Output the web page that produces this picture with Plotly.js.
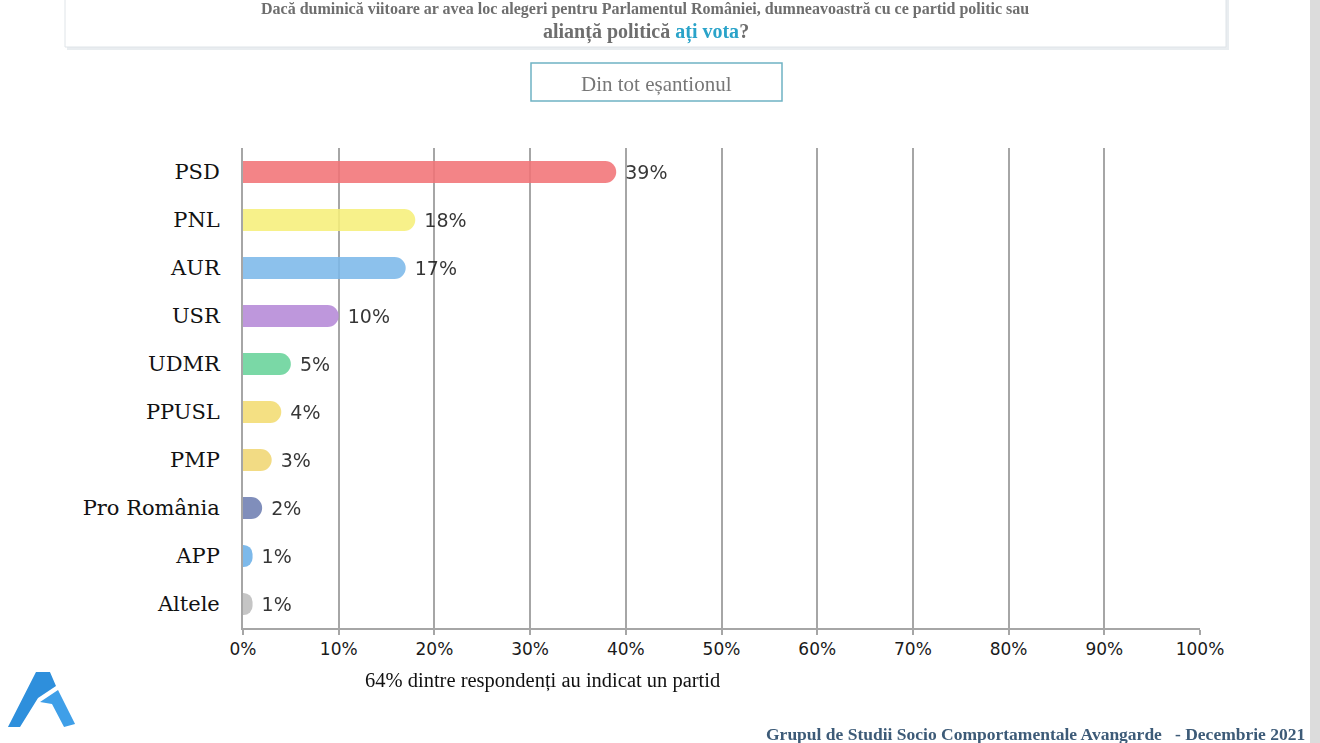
<!DOCTYPE html>
<html>
<head>
<meta charset="utf-8">
<script src="https://cdn.plot.ly/plotly-3.0.1.min.js"></script>
<style>html,body{margin:0;padding:0;background:#fff;}#chart{width:1320px;height:743px;}</style>
</head>
<body>
<div id="chart"></div>
<script>
const parties = ["PSD","PNL","AUR","USR","UDMR","PPUSL","PMP","Pro România","APP","Altele"];
const values = [39,18,17,10,5,4,3,2,1,1];
const labels = ["39%","18%","17%","10%","5%","4%","3%","2%","1%","1%"];
const colors = ["#f27377","#f6f07a","#7db9ea","#b689d8","#68d39a","#f3dc72","#f1d774","#6f7fb2","#6cb0e8","#bdbdbd"];
const xTicks = [0,10,20,30,40,50,60,70,80,90,100];
const xTickText = ["0%","10%","20%","30%","40%","50%","60%","70%","80%","90%","100%"];

const W = 1320, H = 743, L = 243, R = 120, T = 148, B = 115;
const pw = W - L - R, ph = H - T - B;
function px(x){ return (x - L) / pw; }
function py(y){ return (H - B - y) / ph; }
function path(pts){ return "M " + pts.map(p => px(p[0]).toFixed(4) + "," + py(p[1]).toFixed(4)).join(" L ") + " Z"; }

const trace = {
  type: "bar",
  orientation: "h",
  y: parties,
  x: values,
  text: labels,
  texttemplate: "\u00a0%{text}",
  textposition: "outside",
  cliponaxis: false,
  textfont: {family: "DejaVu Sans, Verdana, sans-serif", size: 19, color: "#1a1a1a"},
  marker: {color: colors, cornerradius: "50%", line: {width: 0}},
  opacity: 0.88,
  width: 0.46,
  hoverinfo: "skip"
};

const serif = "Liberation Serif, Times New Roman, serif";

const layout = {
  width: W, height: H,
  margin: {l: L, r: R, t: T, b: B},
  paper_bgcolor: "#ffffff",
  plot_bgcolor: "#ffffff",
  showlegend: false,
  xaxis: {
    range: [0, 100],
    tickvals: xTicks,
    ticktext: xTickText,
    showgrid: true,
    gridcolor: "#a6a6a6",
    gridwidth: 2,
    zeroline: false,
    showline: true,
    linecolor: "#a6a6a6",
    linewidth: 2,
    ticks: "outside",
    ticklen: 5,
    tickcolor: "#a6a6a6",
    tickwidth: 2,
    tickfont: {family: "DejaVu Sans, Verdana, sans-serif", size: 17, color: "#1a1a1a"},
    fixedrange: true
  },
  yaxis: {
    autorange: "reversed",
    showgrid: false,
    showline: true,
    linecolor: "#a6a6a6",
    linewidth: 2,
    ticks: "",
    ticklabelstandoff: 17,
    tickfont: {family: "DejaVu Serif, Liberation Serif, serif", size: 21, color: "#111"},
    fixedrange: true
  },
  shapes: [
    {type: "rect", xref: "paper", yref: "paper", x0: px(67), x1: px(1229), y0: py(50), y1: py(-10),
      line: {width: 0}, fillcolor: "#e9edf0", layer: "below"},
    {type: "rect", xref: "paper", yref: "paper", x0: px(65), x1: px(1226), y0: py(47), y1: py(-10),
      line: {color: "#dfe4e8", width: 1}, fillcolor: "#ffffff", layer: "below"},
    {type: "rect", xref: "paper", yref: "paper", x0: px(531), x1: px(782), y0: py(101), y1: py(63),
      line: {color: "#6fb3c4", width: 1.5}, fillcolor: "#ffffff", layer: "below"},
    {type: "rect", xref: "paper", yref: "paper", x0: px(1310), x1: px(1321), y0: py(744), y1: py(-1),
      line: {width: 0}, fillcolor: "#dcdcdc", layer: "below"},
    {type: "path", xref: "paper", yref: "paper", layer: "above",
      path: path([[8,727],[36,672],[50,672],[56,686],[38,698],[20,727]]),
      fillcolor: "#2e8fdc", line: {width: 0}},
    {type: "path", xref: "paper", yref: "paper", layer: "above",
      path: path([[58,690],[75,724],[64,727],[52,704],[40,702]]),
      fillcolor: "#3f9fe8", line: {width: 0}}
  ],
  annotations: [
    {xref: "paper", yref: "paper", x: px(645), y: py(9), xanchor: "center", yanchor: "middle", showarrow: false,
      text: "Dacă duminică viitoare ar avea loc alegeri pentru Parlamentul României, dumneavoastră cu ce partid politic sau",
      font: {family: serif, size: 16, color: "#6e6e6e", weight: "bold"}},
    {xref: "paper", yref: "paper", x: px(646), y: py(32), xanchor: "center", yanchor: "middle", showarrow: false,
      text: "alianță politică <span style='color:#2aa3c9'>ați vota</span>?",
      font: {family: serif, size: 20, color: "#6e6e6e", weight: "bold"}},
    {xref: "paper", yref: "paper", x: px(656), y: py(84), xanchor: "center", yanchor: "middle", showarrow: false,
      text: "Din tot eșantionul",
      font: {family: serif, size: 21, color: "#777777"}},
    {xref: "paper", yref: "paper", x: px(542), y: py(680), xanchor: "center", yanchor: "middle", showarrow: false,
      text: "64% dintre respondenți au indicat un partid",
      font: {family: serif, size: 20.5, color: "#111111"}},
    {xref: "paper", yref: "paper", x: px(1307), y: py(734), xanchor: "right", yanchor: "middle", showarrow: false,
      text: "Grupul de Studii Socio Comportamentale Avangarde &nbsp; - Decembrie 2021",
      font: {family: serif, size: 17.5, color: "#3d5b78", weight: "bold"}}
  ]
};

Plotly.newPlot("chart", [trace], layout, {displayModeBar: false, staticPlot: true});
</script>
</body>
</html>
